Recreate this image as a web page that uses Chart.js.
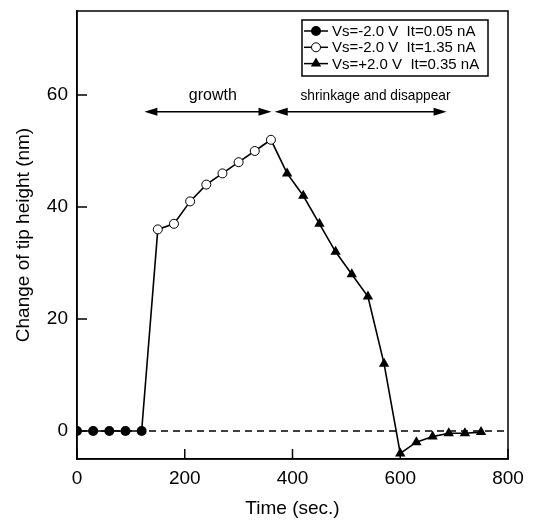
<!DOCTYPE html>
<html><head><meta charset="utf-8">
<script src="https://cdn.jsdelivr.net/npm/chart.js@4/dist/chart.umd.min.js"></script>
<style>html,body{margin:0;padding:0;background:#fff;overflow:hidden}</style>
</head><body>
<canvas id="c" width="533" height="523"></canvas>
<script>
// ---- data ----
const filledT = [0, 30, 60, 90, 120];
const filledH = [0, 0, 0, 0, 0];
const openT = [150, 180, 210, 240, 270, 300, 330, 360];
const openH = [36, 37, 41, 44, 46, 48, 50, 52];
const triT = [390, 420, 450, 480, 510, 540, 570, 600, 630, 660, 690, 720, 750];
const triH = [46, 42, 37, 32, 28, 24, 12, -4, -2, -1, -0.4, -0.4, -0.2];
const zeroT = [0, 800];
const zeroH = [0, 0];
const xTicks = [0, 200, 400, 600, 800];
const yTicks = [0, 20, 40, 60];
const legendLabels = ['Vs=-2.0 V  It=0.05 nA', 'Vs=-2.0 V  It=1.35 nA', 'Vs=+2.0 V  It=0.35 nA'];
const phaseLabels = ['growth', 'shrinkage and disappear'];
const phaseFrom = [125, 367];
const phaseTo = [361, 686];
const phaseLevel = 57;

const FONT = "'Liberation Sans', Arial, Helvetica, sans-serif";
const pts = (t, h) => t.map((v, i) => ({x: v, y: h[i]}));
const allPts = [...pts(filledT, filledH), ...pts(openT, openH), ...pts(triT, triH)];

function drawMarker(ctx, kind, x, y) {
  ctx.save();
  ctx.lineWidth = 1;
  ctx.strokeStyle = '#000';
  ctx.beginPath();
  if (kind === 0) { ctx.arc(x, y, 5, 0, Math.PI * 2); ctx.fillStyle = '#000'; ctx.fill(); }
  else if (kind === 1) { ctx.arc(x, y, 4.5, 0, Math.PI * 2); ctx.fillStyle = '#fff'; ctx.fill(); ctx.stroke(); }
  else {
    const r = 6;
    for (let k = 0; k < 3; k++) {
      const a = k * 2 * Math.PI / 3;
      const px = x + Math.sin(a) * r, py = y - Math.cos(a) * r;
      if (k === 0) ctx.moveTo(px, py); else ctx.lineTo(px, py);
    }
    ctx.closePath(); ctx.fillStyle = '#000'; ctx.fill();
  }
  ctx.restore();
}

const decor = {
  id: 'decor',
  afterDraw(chart) {
    const {ctx, chartArea: a, scales: {x, y}} = chart;
    ctx.save();
    // frame
    ctx.strokeStyle = '#000';
    ctx.lineWidth = 1.5;
    ctx.strokeRect(a.left, a.top, a.right - a.left, a.bottom - a.top);
    // inward ticks
    ctx.beginPath();
    xTicks.forEach(v => { const px = x.getPixelForValue(v); ctx.moveTo(px, a.bottom); ctx.lineTo(px, a.bottom - 10); });
    yTicks.forEach(v => { const py = y.getPixelForValue(v); ctx.moveTo(a.left, py); ctx.lineTo(a.left + 10, py); });
    ctx.stroke();
    // phase arrows
    const ay = y.getPixelForValue(phaseLevel);
    ctx.fillStyle = '#000';
    ctx.lineWidth = 1.5;
    phaseLabels.forEach((lab, i) => {
      const x1 = x.getPixelForValue(phaseFrom[i]), x2 = x.getPixelForValue(phaseTo[i]);
      ctx.beginPath(); ctx.moveTo(x1 + 8, ay); ctx.lineTo(x2 - 8, ay); ctx.stroke();
      ctx.beginPath(); ctx.moveTo(x1, ay); ctx.lineTo(x1 + 13, ay - 4); ctx.lineTo(x1 + 13, ay + 4); ctx.closePath(); ctx.fill();
      ctx.beginPath(); ctx.moveTo(x2, ay); ctx.lineTo(x2 - 13, ay - 4); ctx.lineTo(x2 - 13, ay + 4); ctx.closePath(); ctx.fill();
    });
    ctx.textAlign = 'center';
    ctx.textBaseline = 'middle';
    ctx.font = '16px ' + FONT;
    ctx.fillText(phaseLabels[0], x.getPixelForValue(252), ay - 16);
    ctx.font = '14.5px ' + FONT;
    ctx.fillText(phaseLabels[1], x.getPixelForValue(554), ay - 16, 150);
    // legend
    const bx = 302, by = 20, bw = 186, bh = 56;
    ctx.fillStyle = '#fff';
    ctx.fillRect(bx, by, bw, bh);
    ctx.lineWidth = 1.5;
    ctx.strokeRect(bx, by, bw, bh);
    ctx.font = '15px ' + FONT;
    ctx.textAlign = 'left';
    ctx.textBaseline = 'middle';
    legendLabels.forEach((lab, i) => {
      const ry = by + 11 + i * 16.3;
      ctx.lineWidth = 1.5;
      ctx.beginPath(); ctx.moveTo(bx + 2, ry); ctx.lineTo(bx + 26, ry); ctx.stroke();
      drawMarker(ctx, i, bx + 14, ry);
      ctx.fillStyle = '#000';
      ctx.fillText(lab, bx + 30, ry + 1);
    });
    ctx.restore();
  }
};

new Chart(document.getElementById('c'), {
  type: 'scatter',
  data: {
    datasets: [
      {data: pts(filledT, filledH), showLine: false, pointStyle: 'circle', pointRadius: 5, backgroundColor: '#000', borderColor: '#000', borderWidth: 0},
      {data: pts(openT, openH), showLine: false, pointStyle: 'circle', pointRadius: 4.5, backgroundColor: '#fff', borderColor: '#000', borderWidth: 1},
      {data: pts(triT, triH), showLine: false, pointStyle: 'triangle', pointRadius: 6, backgroundColor: '#000', borderColor: '#000', borderWidth: 0},
      {data: allPts, showLine: true, pointRadius: 0, borderColor: '#000', borderWidth: 1.6, tension: 0},
      {data: pts(zeroT, zeroH), showLine: true, pointRadius: 0, borderColor: '#000', borderWidth: 1.5, borderDash: [7, 5]}
    ]
  },
  options: {
    responsive: false,
    animation: false,
    events: [],
    layout: {padding: {top: 11, right: 25, left: 0, bottom: 0}},
    plugins: {legend: {display: false}, tooltip: {enabled: false}},
    scales: {
      x: {
        type: 'linear', min: 0, max: 800,
        afterBuildTicks: s => { s.ticks = xTicks.map(v => ({value: v})); },
        afterFit: s => { s.height = 64; s.paddingLeft = 0; s.paddingRight = 0; },
        grid: {display: false, drawTicks: false},
        border: {display: true, color: '#000', width: 1.5},
        ticks: {color: '#000', font: {family: FONT, size: 19}, padding: 8, maxRotation: 0},
        title: {display: true, text: 'Time (sec.)', color: '#000', font: {family: FONT, size: 19}, padding: {top: 3, bottom: 3}}
      },
      y: {
        type: 'linear', min: -5, max: 75,
        afterBuildTicks: s => { s.ticks = yTicks.map(v => ({value: v})); },
        afterFit: s => { s.width = 77; s.paddingTop = 0; s.paddingBottom = 0; },
        grid: {display: false, drawTicks: false},
        border: {display: true, color: '#000', width: 1.5},
        ticks: {color: '#000', font: {family: FONT, size: 19}, padding: 9},
        title: {display: true, text: 'Change of tip height (nm)', color: '#000', font: {family: FONT, size: 19}, padding: {top: 12, bottom: 12}}
      }
    }
  },
  plugins: [decor]
});
</script>
</body></html>
